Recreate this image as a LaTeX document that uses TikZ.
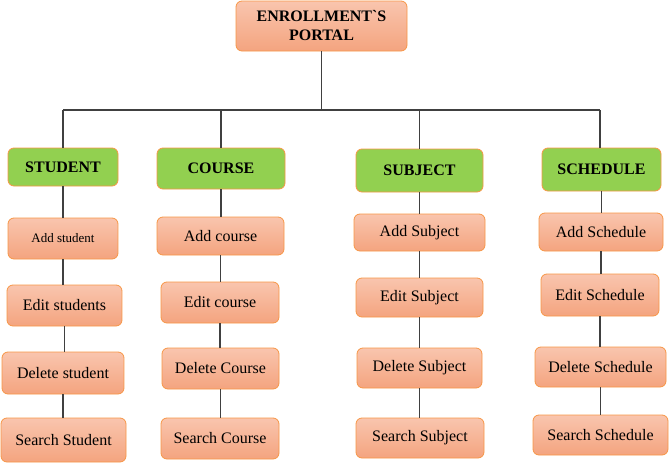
\documentclass[tikz,border=0pt]{standalone}
\usepackage{fontspec}
\setmainfont{Liberation Serif}
\newfontfamily\rawserif{Liberation Serif}
\begin{document}
\begin{tikzpicture}[x=1pt,y=1pt,
  box/.style={draw=boxline, line width=0.8pt, rounded corners=6pt, inner sep=0pt, align=center, text=black},
  sub/.style={box, top color=salmontop, bottom color=salmonbot, font=\fontsize{16}{18}\selectfont},
  head/.style={box, fill=headgreen, font=\bfseries\fontsize{16}{19}\selectfont},
  link/.style={draw=linegray, line width=1.1pt}]
\definecolor{boxline}{HTML}{F79646}
\definecolor{salmontop}{HTML}{F9C5AE}
\definecolor{salmonbot}{HTML}{F4A47F}
\definecolor{headgreen}{HTML}{92D050}
\definecolor{linegray}{HTML}{404040}
\useasboundingbox (0,0) rectangle (670,-463);
% top
\node[sub, font=\rawserif\bfseries\fontsize{16}{19}\selectfont, minimum width=171, minimum height=50] (top) at (321.5,-26) {ENROLLMENT`S\\PORTAL};
% headers
\node[head, minimum width=110, minimum height=38] (student) at (63,-167) {STUDENT};
\node[head, minimum width=128, minimum height=41] (course) at (221,-168.5) {COURSE};
\node[head, minimum width=127, minimum height=43] (subject) at (419.5,-170.5) {SUBJECT};
\node[head, minimum width=119, minimum height=43] (schedule) at (601.5,-169.5) {SCHEDULE};
% student column
\node[sub, font=\fontsize{13}{15}\selectfont, minimum width=110, minimum height=41] (s1) at (63,-238.5) {Add student};
\node[sub, minimum width=115, minimum height=41] (s2) at (64.5,-305.5) {Edit students};
\node[sub, minimum width=122, minimum height=42] (s3) at (63,-373) {Delete student};
\node[sub, minimum width=125, minimum height=44] (s4) at (63.5,-440) {Search Student};
% course column
\node[sub, minimum width=127, minimum height=38] (c1) at (220.5,-236) {Add course};
\node[sub, minimum width=118, minimum height=41] (c2) at (220,-302.5) {Edit course};
\node[sub, minimum width=117, minimum height=41] (c3) at (220.5,-368.5) {Delete Course};
\node[sub, minimum width=118, minimum height=41] (c4) at (220,-438.5) {Search Course};
% subject column
\node[sub, minimum width=131, minimum height=37] (j1) at (419.5,-232.5) {Add Subject};
\node[sub, minimum width=127, minimum height=39] (j2) at (419.5,-297.5) {Edit Subject};
\node[sub, minimum width=125, minimum height=40] (j3) at (419.5,-368) {Delete Subject};
\node[sub, minimum width=128, minimum height=40] (j4) at (420,-438) {Search Subject};
% schedule column
\node[sub, minimum width=124, minimum height=38] (h1) at (601,-232) {Add Schedule};
\node[sub, minimum width=118, minimum height=42] (h2) at (600,-295) {Edit Schedule};
\node[sub, minimum width=131, minimum height=40] (h3) at (600.5,-367) {Delete Schedule};
\node[sub, minimum width=135, minimum height=40] (h4) at (600.5,-435) {Search Schedule};
% bus
\coordinate (bar) at (321,-110);
\coordinate (busL) at (63,-110);
\coordinate (busR) at (600,-110);
\draw[link] (top.south) -- (top.south |- bar);
\draw[link] (busL) -- (busR);
\draw[link] (busL) -- (student.north);
\draw[link] (course.north |- bar) -- (course.north);
\draw[link] (subject.north |- bar) -- (subject.north);
\draw[link] (busR) -- (busR |- schedule.north);
% columns
\foreach \h/\a/\b/\c/\d in {student/s1/s2/s3/s4, course/c1/c2/c3/c4, subject/j1/j2/j3/j4, schedule/h1/h2/h3/h4}{
  \draw[link] (\h.south) -- (\h.south |- \a.north);
  \draw[link] (\a.south) -- (\a.south |- \b.north);
  \draw[link] (\b.south) -- (\b.south |- \c.north);
  \draw[link] (\c.south) -- (\c.south |- \d.north);
}
\end{tikzpicture}
\end{document}
